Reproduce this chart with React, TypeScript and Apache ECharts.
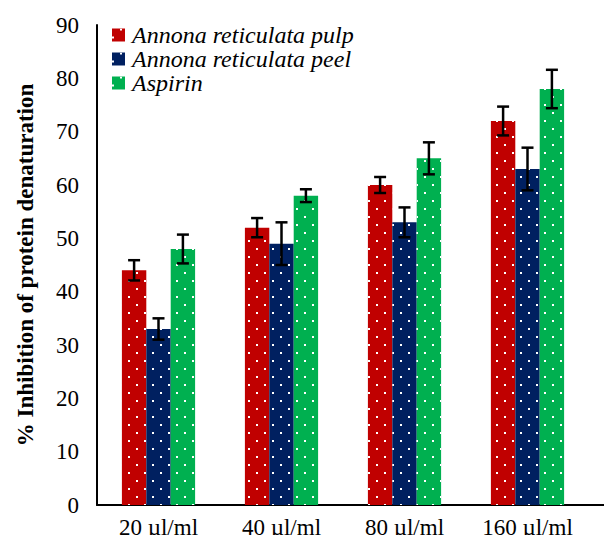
import React, { useEffect, useRef } from "react";
import * as echarts from "echarts";

const categories = ["20 µl/ml", "40 µl/ml", "80 µl/ml", "160 µl/ml"];
const seriesNames = ["Annona reticulata pulp", "Annona reticulata peel", "Aspirin"];
const pulpValues = [44, 52, 60, 72];
const peelValues = [33, 49, 53, 63];
const aspirinValues = [48, 58, 65, 78];
const pulpErrors = [1.9, 1.8, 1.5, 2.7];
const peelErrors = [2.0, 4.0, 2.8, 4.0];
const aspirinErrors = [2.7, 1.2, 3.0, 3.6];
const colors = ["#C00000", "#002060", "#00B050"];

const FONT = "Liberation Serif";
const BAR_W = 24.4;

export default function App() {
  const ref = useRef<HTMLDivElement>(null);
  useEffect(() => {
    if (!ref.current) return;
    const chart = echarts.init(ref.current, undefined, { renderer: "svg" });
    const values = [pulpValues, peelValues, aspirinValues];
    const errors = [pulpErrors, peelErrors, aspirinErrors];
    const decal = {
      symbol: "rect",
      symbolSize: 1,
      color: "#ffffff",
      dashArrayX: [
        [2, 14],
        [0, 8, 2, 6],
      ],
      dashArrayY: [2, 6],
      rotation: 0,
    };
    const barSeries = values.map((v, i) => ({
      name: seriesNames[i],
      type: "bar",
      data: v,
      barWidth: BAR_W,
      barGap: "0%",
      barCategoryGap: "40.6%",
      itemStyle: { color: colors[i], decal },
      z: 2,
    }));
    const errorSeries = values.map((v, i) => ({
      name: seriesNames[i] + " error",
      type: "custom",
      data: v.map((val, k) => [k, val, errors[i][k]]),
      z: 5,
      silent: true,
      renderItem: (params: any, api: any) => {
        const k = api.value(0);
        const val = api.value(1);
        const err = api.value(2);
        const c = api.coord([k, val]);
        const x = c[0] + (i - 1) * BAR_W;
        const top = api.coord([k, val + err])[1];
        const bot = api.coord([k, val - err])[1];
        const half = 6;
        const style = { stroke: "#000", lineWidth: 2.5 };
        return {
          type: "group",
          children: [
            { type: "line", shape: { x1: x, y1: top, x2: x, y2: bot }, style },
            { type: "line", shape: { x1: x - half, y1: top, x2: x + half, y2: top }, style },
            { type: "line", shape: { x1: x - half, y1: bot, x2: x + half, y2: bot }, style },
          ],
        };
      },
    }));
    chart.setOption({
      animation: false,
      backgroundColor: "#ffffff",
      textStyle: { fontFamily: FONT },
      grid: { left: 97, right: 23, top: 25, bottom: 38, containLabel: false },
      legend: {
        data: seriesNames,
        orient: "vertical",
        left: 107,
        top: 18,
        itemWidth: 13,
        itemHeight: 13,
        itemGap: 0,
        icon: "rect",
        textStyle: {
          fontFamily: FONT,
          fontStyle: "italic",
          fontSize: 24,
          lineHeight: 24,
          color: "#000",
          padding: [0, 0, 0, 2],
        },
      },
      xAxis: {
        type: "category",
        data: categories,
        axisLine: { lineStyle: { color: "#000", width: 2 } },
        axisTick: { show: false },
        axisLabel: { fontFamily: FONT, fontSize: 23, color: "#000", margin: 11 },
      },
      yAxis: {
        type: "value",
        min: 0,
        max: 90,
        interval: 10,
        name: "% Inhibition of protein denaturation",
        nameLocation: "middle",
        nameGap: 60,
        nameTextStyle: { fontFamily: FONT, fontSize: 23, fontWeight: "bold", color: "#000" },
        axisLine: { show: true, lineStyle: { color: "#000", width: 2 } },
        axisTick: { show: false },
        splitLine: { show: false },
        axisLabel: { fontFamily: FONT, fontSize: 23, color: "#000", margin: 18 },
      },
      graphic: [
        {
          type: "line",
          shape: { x1: 589, y1: 505, x2: 612, y2: 505 },
          style: { stroke: "#000", lineWidth: 2 },
        },
      ],
      series: [...barSeries, ...errorSeries],
    });
    return () => chart.dispose();
  }, []);
  return <div ref={ref} style={{ width: 612, height: 543, margin: -8 }} />;
}
